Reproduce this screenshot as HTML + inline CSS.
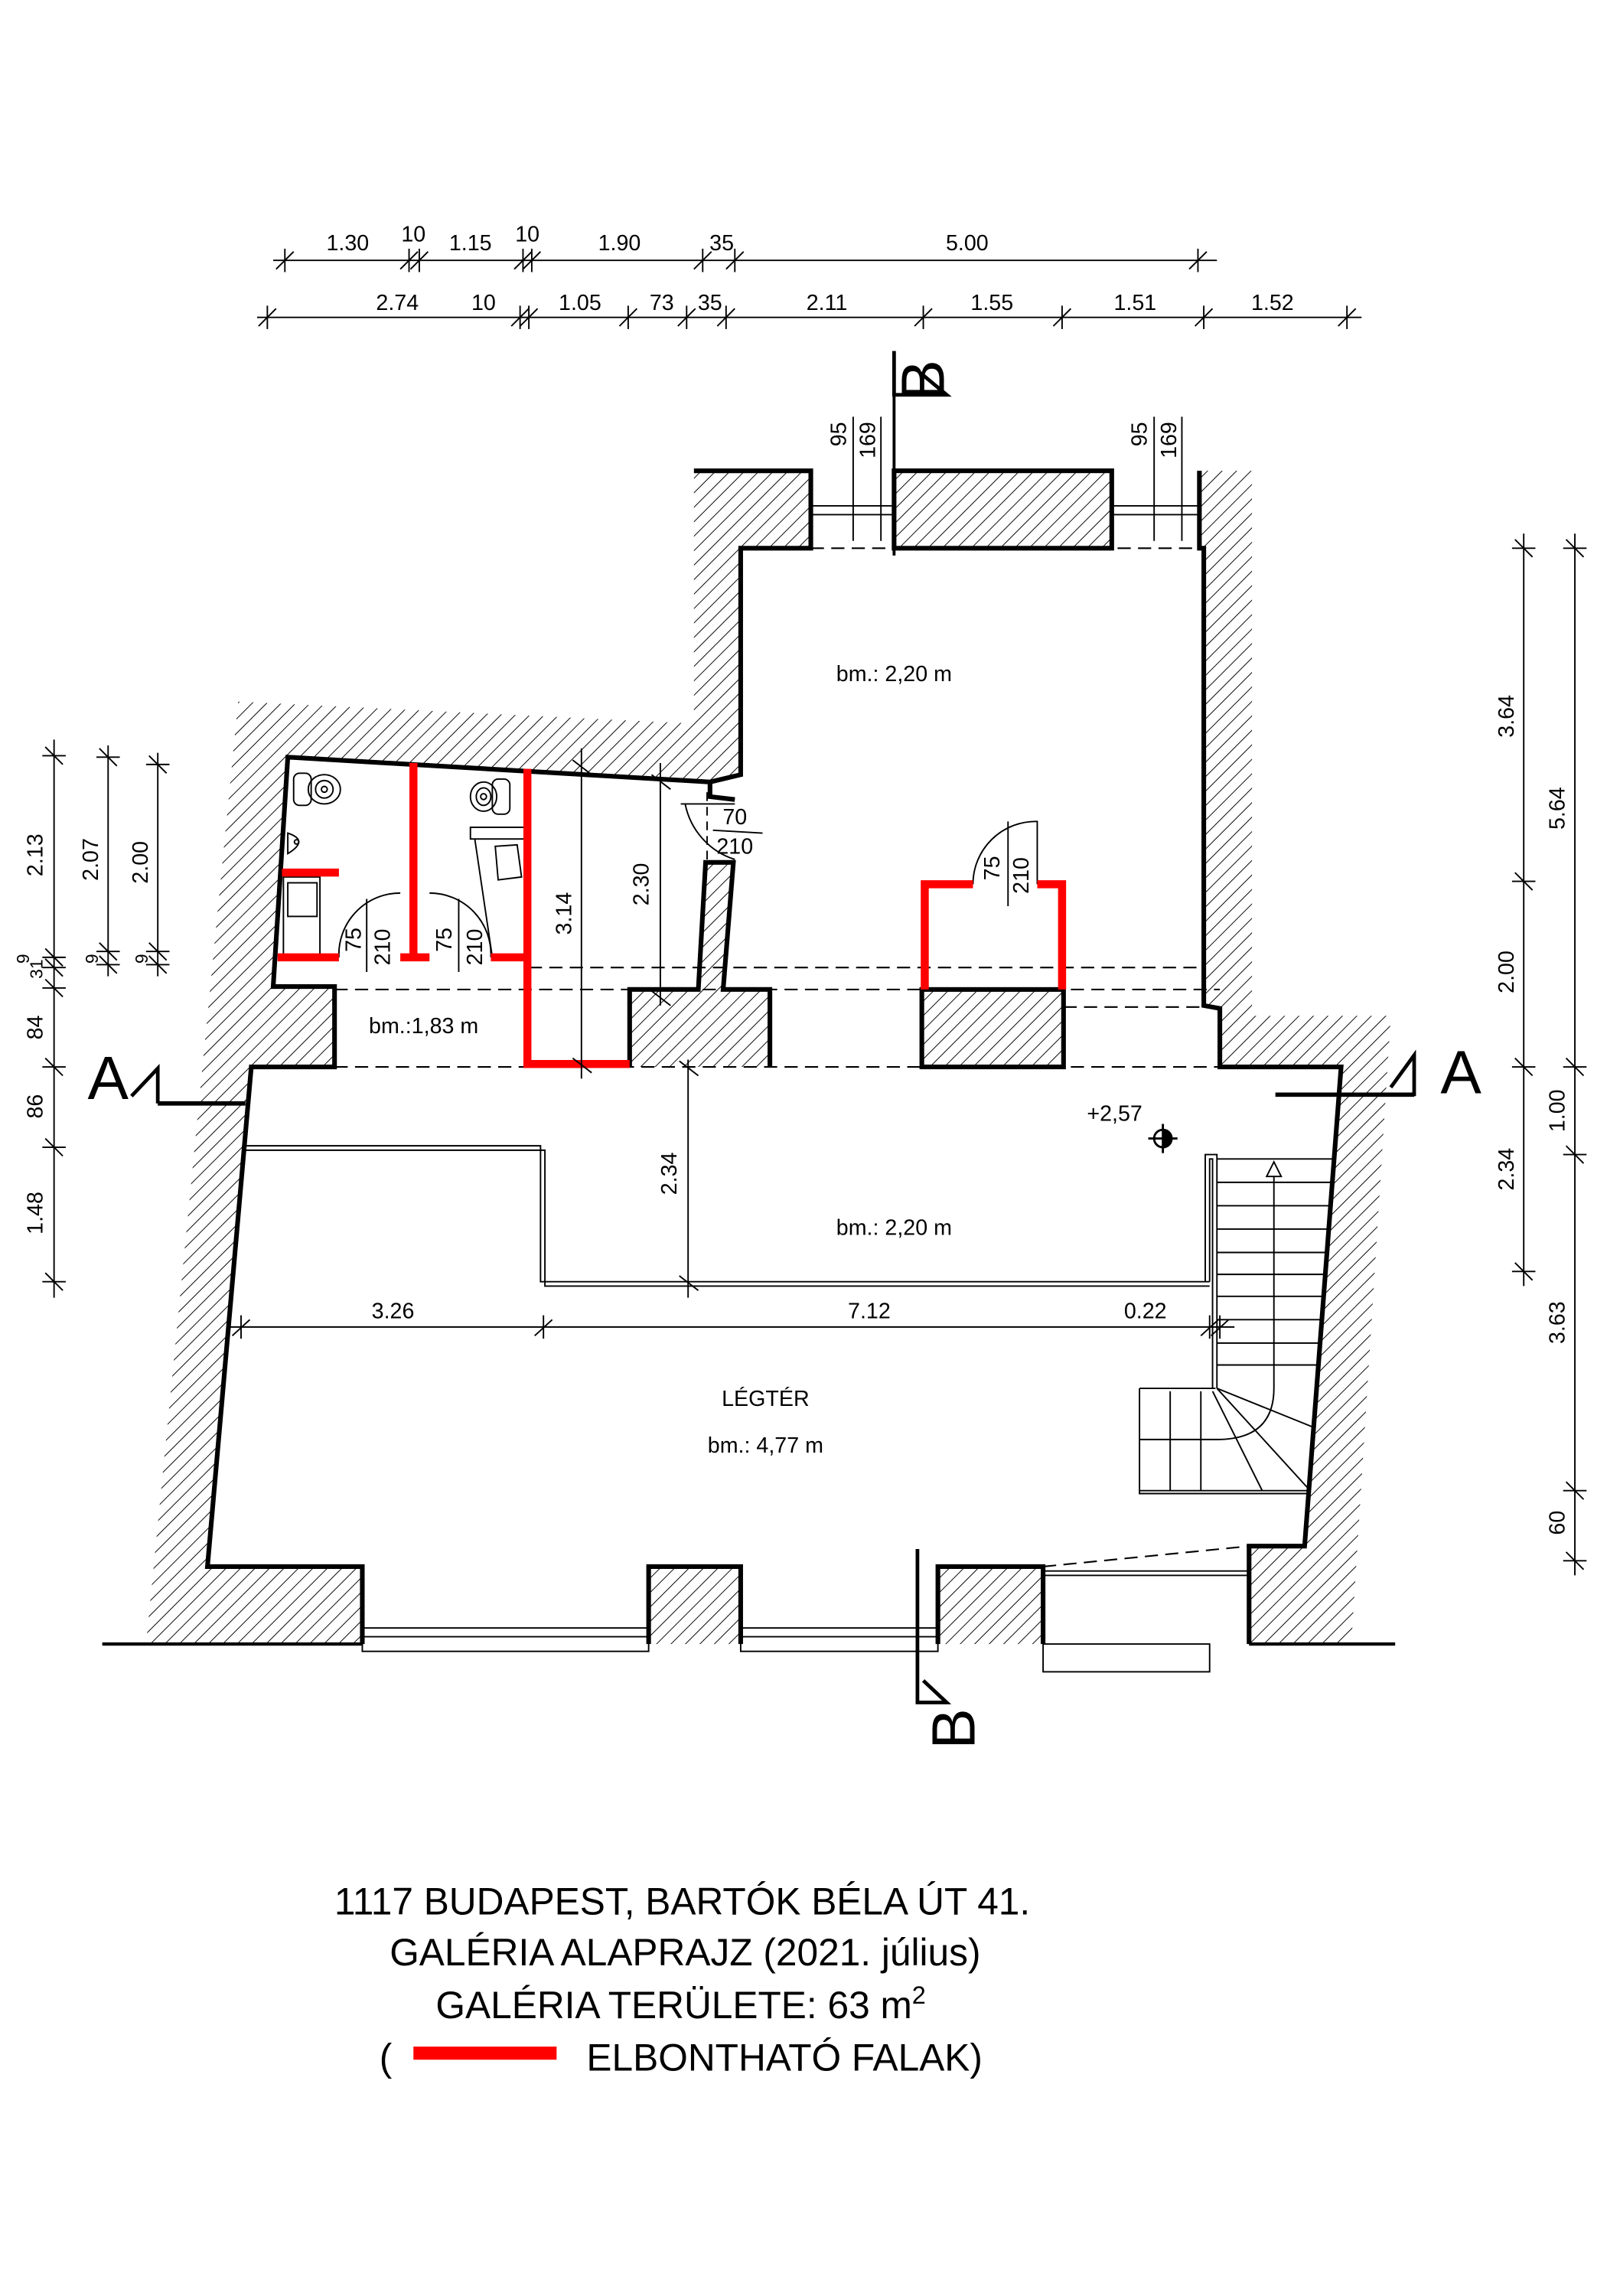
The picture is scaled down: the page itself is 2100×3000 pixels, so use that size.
<!DOCTYPE html>
<html><head><meta charset="utf-8"><style>
html,body{margin:0;padding:0;background:#fff}
svg{display:block}
text{font-family:"Liberation Sans",sans-serif;fill:#000}
</style></head><body>
<svg width="2100" height="3000" viewBox="0 0 1100 1571" xmlns="http://www.w3.org/2000/svg">
<defs>
<pattern id="h" width="7" height="7" patternUnits="userSpaceOnUse" patternTransform="rotate(45)">
<line x1="0" y1="0" x2="0" y2="7" stroke="#000" stroke-width="1"/>
</pattern>
</defs>
<rect width="1100" height="1571" fill="#fff"/>

<g fill="url(#h)" stroke="none">
<path d="M163,480 L475,495 L475,322 L555,322 L555,375 L507,375 L507,530 L486,535 L197,518 L187,675 L229,675 L229,730 L172,730 L142,1072 L248,1072 L248,1125 L100,1125 Z"/>
<rect x="612" y="322" width="149" height="53"/>
<path d="M821,322 L857,322 L857,695 L952,695 L925,1125 L855,1125 L855,1058 L893,1058 L918,730 L835,730 L835,690 L824,688 L824,375 L821,375 Z"/>
<rect x="444" y="1072" width="63" height="53"/>
<rect x="642" y="1072" width="72" height="53"/>
<path d="M431,677 L527,677 L527,730 L431,730 Z"/>
<path d="M483,590 L502,590 L495,677 L478,677 Z"/>
<rect x="631" y="677" width="97" height="53"/>
</g>

<g fill="none" stroke="#000" stroke-width="3.2" stroke-linejoin="miter">
<path d="M475,322 L555,322 L555,375 L507,375 L507,530 L486,535 L197,518 L187,675 L229,675 L229,730 L172,730 L142,1072 L248,1072 L248,1125"/>
<path d="M486,535 L486,545 L503,547"/>
<rect x="612" y="322" width="149" height="53"/>
<path d="M821,322 L821,375 L824,375 L824,688 L835,690 L835,730 L918,730 L893,1058 L855,1058 L855,1125"/>
<path d="M444,1125 L444,1072 L507,1072 L507,1125"/>
<path d="M642,1125 L642,1072 L714,1072 L714,1125"/>
<path d="M431,730 L431,677 L478,677 L483,590 L502,590 L495,677 L527,677 L527,730"/>
<rect x="631" y="677" width="97" height="53"/>
</g>
<g stroke="#000" stroke-width="2.2">
<line x1="70" y1="1125" x2="248" y2="1125"/>
<line x1="855" y1="1125" x2="955" y2="1125"/>
</g>

<g stroke="#000" stroke-width="1" fill="none">
<line x1="555" y1="346" x2="612" y2="346"/><line x1="555" y1="352" x2="612" y2="352"/>
<line x1="761" y1="346" x2="821" y2="346"/><line x1="761" y1="352" x2="821" y2="352"/>
<rect x="248" y="1114" width="196" height="16"/><line x1="248" y1="1120" x2="444" y2="1120"/>
<rect x="507" y="1114" width="135" height="16"/><line x1="507" y1="1120" x2="642" y2="1120"/>
<line x1="714" y1="1075" x2="855" y2="1075"/><line x1="714" y1="1078" x2="855" y2="1078"/>
<rect x="714" y="1125" width="114" height="19"/>
</g>

<g stroke="#000" stroke-width="1.1" stroke-dasharray="9,5" fill="none">
<line x1="555" y1="375" x2="824" y2="375"/>
<line x1="362" y1="662" x2="824" y2="662"/>
<line x1="229" y1="677" x2="835" y2="677"/>
<line x1="728" y1="689" x2="824" y2="689"/>
<line x1="229" y1="730" x2="918" y2="730"/>
<line x1="714" y1="1072" x2="855" y2="1058"/>
</g>

<g stroke="#000" stroke-width="1" fill="none">
<path d="M168,784 L370,784 L370,877 L828,877"/>
<path d="M168,787 L373,787 L373,880 L828,880"/>
<path d="M825,877 L825,790 L833,790 L833,950"/>
<path d="M828,877 L828,793 L830,793 L830,950"/>
</g>

<g stroke="#000" stroke-width="1" fill="none">
<line x1="833" y1="793" x2="913" y2="793"/>
<line x1="833" y1="809" x2="912" y2="809"/>
<line x1="833" y1="825" x2="911" y2="825"/>
<line x1="833" y1="841" x2="909" y2="841"/>
<line x1="833" y1="857" x2="908" y2="857"/>
<line x1="833" y1="872" x2="907" y2="872"/>
<line x1="833" y1="887" x2="905" y2="887"/>
<line x1="833" y1="903" x2="904" y2="903"/>
<line x1="833" y1="919" x2="903" y2="919"/>
<line x1="833" y1="934" x2="901" y2="934"/>
<path d="M872,950 L872,805"/>
<path d="M867,805 L872,795 L877,805 Z"/>
<path d="M780,950 L832,950 M780,950 L780,1022 L896,1022 M780,1020 L896,1020"/>
<line x1="780" y1="985" x2="822" y2="985"/>
<line x1="801" y1="952" x2="801" y2="1020"/>
<line x1="822" y1="952" x2="822" y2="1020"/>
<line x1="830" y1="952" x2="864" y2="1020"/>
<line x1="833" y1="950" x2="895" y2="1018"/>
<line x1="833" y1="950" x2="900" y2="977"/>
<path d="M872,950 Q872,985 833,985 L822,985"/>
</g>
<text x="744" y="767" font-size="15">+2,57</text>
<g stroke="#000" stroke-width="1.5" fill="none">
<circle cx="796" cy="779" r="6"/>
<line x1="786" y1="779" x2="806" y2="779"/>
<line x1="796" y1="769" x2="796" y2="789"/>
</g>
<path d="M796,773 A6,6 0 0,1 796,785 Z" fill="#000"/>

<g stroke="#000" stroke-width="1" fill="none">
<rect x="201" y="529" width="12" height="22" rx="4"/>
<ellipse cx="222" cy="540" rx="11" ry="10"/><ellipse cx="222" cy="540" rx="6" ry="6"/><circle cx="222" cy="540" r="2"/>
<rect x="337" y="533" width="12" height="24" rx="4"/>
<ellipse cx="331" cy="545" rx="9" ry="10"/><ellipse cx="331" cy="545" rx="5" ry="6"/><circle cx="331" cy="545" r="2"/>
<path d="M197,570 Q212,575 197,584 Z"/>
<circle cx="203" cy="576" r="1.5"/>
<rect x="197" y="604" width="20" height="23"/>
<rect x="194" y="600" width="25" height="55"/>
<rect x="322" y="566" width="38" height="8"/>
<path d="M325,574 L337,655 M339,579 L354,578 L357,600 L341,602 Z"/>
<path d="M232,655 A42,42 0 0,1 274,611"/>
<path d="M294,611 A42,42 0 0,1 336,655"/>
<line x1="251" y1="615" x2="251" y2="665"/>
<line x1="314" y1="615" x2="314" y2="665"/>
<path d="M469,550 A50,50 0 0,0 503,588"/>
<line x1="466" y1="550" x2="503" y2="550"/>
<line x1="484" y1="542" x2="484" y2="590" stroke-dasharray="6,4"/>
<line x1="488" y1="568" x2="522" y2="570"/>
<path d="M666,605 A43,43 0 0,1 710,562 L710,605"/>
<line x1="690" y1="562" x2="690" y2="620"/>
</g>

<g stroke="#f00" stroke-width="5.5" fill="none" stroke-linecap="butt">
<line x1="283" y1="522" x2="283" y2="657"/>
<line x1="190" y1="655" x2="232" y2="655"/>
<line x1="274" y1="655" x2="294" y2="655"/>
<line x1="336" y1="655" x2="362" y2="655"/>
<line x1="193" y1="597" x2="232" y2="597"/>
<path d="M361,526 L361,728 L431,728"/>
<path d="M666,605 L633,605 L633,677"/>
<path d="M710,605 L727,605 L727,677"/>
<line x1="283" y1="1405" x2="381" y2="1405" stroke-width="9"/>
</g>

<g stroke="#000" stroke-width="1" fill="none">
<line x1="398" y1="512" x2="398" y2="738"/>
<line x1="392" y1="520" x2="405" y2="530"/><line x1="392" y1="724" x2="405" y2="734"/>
<line x1="452" y1="522" x2="452" y2="688"/>
<line x1="446" y1="530" x2="459" y2="540"/><line x1="446" y1="678" x2="459" y2="688"/>
<line x1="471" y1="725" x2="471" y2="888"/>
<line x1="465" y1="726" x2="478" y2="736"/><line x1="465" y1="873" x2="478" y2="883"/>
<line x1="155" y1="908" x2="845" y2="908"/>
<line x1="165" y1="900" x2="165" y2="916"/><line x1="159" y1="914" x2="171" y2="903"/>
<line x1="372" y1="900" x2="372" y2="916"/><line x1="366" y1="914" x2="378" y2="903"/>
<line x1="828" y1="900" x2="828" y2="916"/><line x1="822" y1="914" x2="834" y2="903"/>
<line x1="835" y1="900" x2="835" y2="916"/><line x1="829" y1="914" x2="841" y2="903"/>
</g>
<g font-size="15">
<text transform="translate(391,625) rotate(-90)" text-anchor="middle">3.14</text>
<text transform="translate(444,605) rotate(-90)" text-anchor="middle">2.30</text>
<text transform="translate(463,803) rotate(-90)" text-anchor="middle">2.34</text>
<text x="269" y="902" text-anchor="middle">3.26</text>
<text x="595" y="902" text-anchor="middle">7.12</text>
<text x="784" y="902" text-anchor="middle">0.22</text>
<text x="503" y="564" text-anchor="middle">70</text>
<text x="503" y="584" text-anchor="middle">210</text>
<text transform="translate(247,643) rotate(-90)" text-anchor="middle">75</text>
<text transform="translate(267,648) rotate(-90)" text-anchor="middle">210</text>
<text transform="translate(309,643) rotate(-90)" text-anchor="middle">75</text>
<text transform="translate(330,648) rotate(-90)" text-anchor="middle">210</text>
<text transform="translate(684,594) rotate(-90)" text-anchor="middle">75</text>
<text transform="translate(704,599) rotate(-90)" text-anchor="middle">210</text>
</g>

<g font-size="15" text-anchor="middle">
<text x="612" y="466">bm.: 2,20 m</text>
<text x="612" y="845">bm.: 2,20 m</text>
<text x="290" y="707">bm.:1,83 m</text>
<text x="524" y="962">LÉGTÉR</text>
<text x="524" y="994">bm.: 4,77 m</text>
</g>

<g stroke="#000" stroke-width="1" fill="none">
<line x1="187" y1="178" x2="833" y2="178"/>
<line x1="195" y1="170" x2="195" y2="186"/><line x1="189" y1="184" x2="201" y2="172"/>
<line x1="280" y1="170" x2="280" y2="186"/><line x1="274" y1="184" x2="286" y2="172"/>
<line x1="287" y1="170" x2="287" y2="186"/><line x1="281" y1="184" x2="293" y2="172"/>
<line x1="358" y1="170" x2="358" y2="186"/><line x1="352" y1="184" x2="364" y2="172"/>
<line x1="364" y1="170" x2="364" y2="186"/><line x1="358" y1="184" x2="370" y2="172"/>
<line x1="481" y1="170" x2="481" y2="186"/><line x1="475" y1="184" x2="487" y2="172"/>
<line x1="503" y1="170" x2="503" y2="186"/><line x1="497" y1="184" x2="509" y2="172"/>
<line x1="820" y1="170" x2="820" y2="186"/><line x1="814" y1="184" x2="826" y2="172"/>
<line x1="176" y1="217" x2="932" y2="217"/>
<line x1="183" y1="209" x2="183" y2="225"/><line x1="177" y1="223" x2="189" y2="211"/>
<line x1="356" y1="209" x2="356" y2="225"/><line x1="350" y1="223" x2="362" y2="211"/>
<line x1="362" y1="209" x2="362" y2="225"/><line x1="356" y1="223" x2="368" y2="211"/>
<line x1="430" y1="209" x2="430" y2="225"/><line x1="424" y1="223" x2="436" y2="211"/>
<line x1="470" y1="209" x2="470" y2="225"/><line x1="464" y1="223" x2="476" y2="211"/>
<line x1="497" y1="209" x2="497" y2="225"/><line x1="491" y1="223" x2="503" y2="211"/>
<line x1="632" y1="209" x2="632" y2="225"/><line x1="626" y1="223" x2="638" y2="211"/>
<line x1="727" y1="209" x2="727" y2="225"/><line x1="721" y1="223" x2="733" y2="211"/>
<line x1="824" y1="209" x2="824" y2="225"/><line x1="818" y1="223" x2="830" y2="211"/>
<line x1="922" y1="209" x2="922" y2="225"/><line x1="916" y1="223" x2="928" y2="211"/>
<line x1="584" y1="285" x2="584" y2="370"/><line x1="603" y1="285" x2="603" y2="370"/>
<line x1="790" y1="285" x2="790" y2="370"/><line x1="809" y1="285" x2="809" y2="370"/>
</g>
<g font-size="15" text-anchor="middle">
<text x="238" y="171">1.30</text><text x="283" y="165">10</text><text x="322" y="171">1.15</text>
<text x="361" y="165">10</text><text x="424" y="171">1.90</text><text x="494" y="171">35</text><text x="662" y="171">5.00</text>
<text x="272" y="212">2.74</text><text x="331" y="212">10</text><text x="397" y="212">1.05</text>
<text x="453" y="212">73</text><text x="486" y="212">35</text><text x="566" y="212">2.11</text>
<text x="679" y="212">1.55</text><text x="777" y="212">1.51</text><text x="871" y="212">1.52</text>
<text transform="translate(579,297) rotate(-90)" text-anchor="middle">95</text>
<text transform="translate(599,301) rotate(-90)" text-anchor="middle">169</text>
<text transform="translate(785,297) rotate(-90)" text-anchor="middle">95</text>
<text transform="translate(805,301) rotate(-90)" text-anchor="middle">169</text>
</g>

<g stroke="#000" stroke-width="1" fill="none">
<line x1="1043" y1="365" x2="1043" y2="880"/>
<line x1="1035" y1="375" x2="1051" y2="375"/><line x1="1037" y1="369" x2="1049" y2="381"/>
<line x1="1035" y1="603" x2="1051" y2="603"/><line x1="1037" y1="597" x2="1049" y2="609"/>
<line x1="1035" y1="730" x2="1051" y2="730"/><line x1="1037" y1="724" x2="1049" y2="736"/>
<line x1="1035" y1="870" x2="1051" y2="870"/><line x1="1037" y1="864" x2="1049" y2="876"/>
<line x1="1078" y1="365" x2="1078" y2="1078"/>
<line x1="1070" y1="375" x2="1086" y2="375"/><line x1="1072" y1="369" x2="1084" y2="381"/>
<line x1="1070" y1="730" x2="1086" y2="730"/><line x1="1072" y1="724" x2="1084" y2="736"/>
<line x1="1070" y1="790" x2="1086" y2="790"/><line x1="1072" y1="784" x2="1084" y2="796"/>
<line x1="1070" y1="1020" x2="1086" y2="1020"/><line x1="1072" y1="1014" x2="1084" y2="1026"/>
<line x1="1070" y1="1068" x2="1086" y2="1068"/><line x1="1072" y1="1062" x2="1084" y2="1074"/>
</g>
<g font-size="15" text-anchor="middle">
<text transform="translate(1036,490) rotate(-90)">3.64</text>
<text transform="translate(1036,665) rotate(-90)">2.00</text>
<text transform="translate(1036,800) rotate(-90)">2.34</text>
<text transform="translate(1071,553) rotate(-90)">5.64</text>
<text transform="translate(1071,760) rotate(-90)">1.00</text>
<text transform="translate(1071,905) rotate(-90)">3.63</text>
<text transform="translate(1071,1042) rotate(-90)">60</text>
</g>

<g stroke="#000" stroke-width="1" fill="none">
<line x1="37" y1="506" x2="37" y2="888"/>
<line x1="29" y1="517" x2="45" y2="517"/><line x1="31" y1="511" x2="43" y2="523"/>
<line x1="29" y1="655" x2="45" y2="655"/><line x1="31" y1="649" x2="43" y2="661"/>
<line x1="29" y1="662" x2="45" y2="662"/><line x1="31" y1="656" x2="43" y2="668"/>
<line x1="29" y1="676" x2="45" y2="676"/><line x1="31" y1="670" x2="43" y2="682"/>
<line x1="29" y1="730" x2="45" y2="730"/><line x1="31" y1="724" x2="43" y2="736"/>
<line x1="29" y1="785" x2="45" y2="785"/><line x1="31" y1="779" x2="43" y2="791"/>
<line x1="29" y1="877" x2="45" y2="877"/><line x1="31" y1="871" x2="43" y2="883"/>
<line x1="74" y1="510" x2="74" y2="668"/>
<line x1="66" y1="518" x2="82" y2="518"/><line x1="68" y1="512" x2="80" y2="524"/>
<line x1="66" y1="651" x2="82" y2="651"/><line x1="68" y1="645" x2="80" y2="657"/>
<line x1="66" y1="660" x2="82" y2="660"/><line x1="68" y1="654" x2="80" y2="666"/>
<line x1="108" y1="515" x2="108" y2="668"/>
<line x1="100" y1="523" x2="116" y2="523"/><line x1="102" y1="517" x2="114" y2="529"/>
<line x1="100" y1="651" x2="116" y2="651"/><line x1="102" y1="645" x2="114" y2="657"/>
<line x1="100" y1="660" x2="116" y2="660"/><line x1="102" y1="654" x2="114" y2="666"/>
</g>
<g font-size="15" text-anchor="middle">
<text transform="translate(29,585) rotate(-90)">2.13</text>
<text transform="translate(29,663) rotate(-90)" font-size="12">31</text>
<text transform="translate(20,656) rotate(-90)" font-size="12">9</text>
<text transform="translate(29,703) rotate(-90)">84</text>
<text transform="translate(29,757) rotate(-90)">86</text>
<text transform="translate(29,830) rotate(-90)">1.48</text>
<text transform="translate(67,588) rotate(-90)">2.07</text>
<text transform="translate(67,656) rotate(-90)" font-size="12">9</text>
<text transform="translate(101,590) rotate(-90)">2.00</text>
<text transform="translate(101,656) rotate(-90)" font-size="12">9</text>
</g>

<g stroke="#000" stroke-width="3" fill="none">
<path d="M108,755 L108,731 L90,750" stroke-width="2.5"/>
<line x1="108" y1="755" x2="168" y2="755"/>
<path d="M968,750 L968,722 L952,744" stroke-width="2.5"/>
<line x1="873" y1="749" x2="968" y2="749"/>
<path d="M612,240 L612,270 L648,270 L630,255" stroke-width="2.5"/>
<line x1="612" y1="270" x2="612" y2="380" stroke-width="2"/>
<path d="M628,1060 L628,1165 L648,1165 L632,1150" stroke-width="2.5"/>
</g>
<g font-size="42">
<text x="60" y="752">A</text>
<text x="986" y="748">A</text>
<text transform="translate(646,260) rotate(-90)" text-anchor="middle">B</text>
<text transform="translate(667,1183) rotate(-90)" text-anchor="middle">B</text>
</g>

<g font-size="26" text-anchor="middle">
<text x="467" y="1310">1117 BUDAPEST, BARTÓK BÉLA ÚT 41.</text>
<text x="469" y="1345">GALÉRIA ALAPRAJZ (2021. július)</text>
<text x="466" y="1381">GALÉRIA TERÜLETE: 63 m<tspan dy="-10" font-size="17">2</tspan></text>
<text x="264" y="1417">(</text>
<text x="537" y="1417">ELBONTHATÓ FALAK)</text>
</g>
</svg>
</body></html>
